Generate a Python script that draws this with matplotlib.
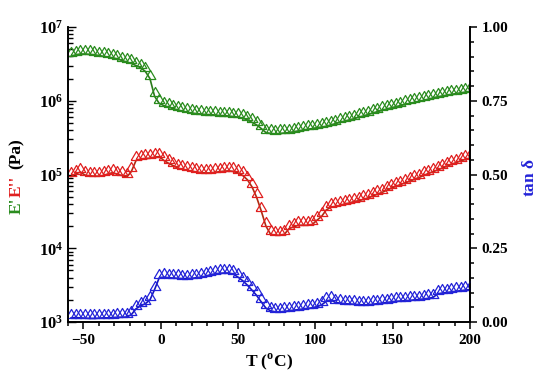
import numpy as np
import matplotlib.pyplot as plt
from matplotlib.ticker import FixedLocator, MultipleLocator, LogLocator, NullFormatter, FuncFormatter

plt.rcParams['font.family'] = 'Liberation Serif'
plt.rcParams['font.weight'] = 'bold'
plt.rcParams['mathtext.fontset'] = 'custom'
plt.rcParams['mathtext.rm'] = 'Liberation Serif:bold'
plt.rcParams['mathtext.bf'] = 'Liberation Serif:bold'

# temperature (degC)
T = [-58, -55, -52, -49, -46, -43, -40, -37, -34, -31, -28, -25, -22, -19, -16,
     -13, -10, -7, -4, -1, 2, 5, 8, 11, 14, 17, 20, 23, 26, 29, 32, 35, 38, 41,
     44, 47, 50, 53, 56, 59, 62, 65, 68, 71, 74, 77, 80, 83, 86, 89, 92, 95, 98,
     101, 104, 107, 110, 113, 116, 119, 122, 125, 128, 131, 134, 137, 140, 143,
     146, 149, 152, 155, 158, 161, 164, 167, 170, 173, 176, 179, 182, 185, 188,
     191, 194, 197, 200]

# storage modulus E' (x1e6 Pa)
E_store = [4.0, 4.2, 4.3, 4.3, 4.25, 4.2, 4.1, 4.0, 3.9, 3.8, 3.7, 3.5, 3.35, 3.2,
           3.0, 2.8, 2.5, 2.0, 1.15, 0.92, 0.86, 0.82, 0.78, 0.75, 0.72, 0.70,
           0.68, 0.67, 0.66, 0.65, 0.65, 0.64, 0.63, 0.63, 0.62, 0.61, 0.60, 0.58,
           0.55, 0.51, 0.47, 0.42, 0.37, 0.36, 0.355, 0.36, 0.365, 0.37, 0.38,
           0.39, 0.40, 0.41, 0.42, 0.43, 0.44, 0.45, 0.47, 0.49, 0.51, 0.53, 0.55,
           0.57, 0.60, 0.62, 0.65, 0.68, 0.71, 0.74, 0.77, 0.80, 0.83, 0.86, 0.89,
           0.92, 0.95, 0.98, 1.01, 1.05, 1.09, 1.13, 1.16, 1.19, 1.22, 1.25, 1.28,
           1.31, 1.34]

# loss modulus E'' (x1e5 Pa)
E_loss = [0.94, 1.02, 1.08, 0.98, 0.96, 0.95, 0.95, 0.97, 1.02, 1.06, 1.0, 0.97,
          0.92, 1.1, 1.55, 1.62, 1.65, 1.66, 1.72, 1.75, 1.55, 1.42, 1.32, 1.22,
          1.18, 1.14, 1.11, 1.08, 1.06, 1.05, 1.05, 1.07, 1.09, 1.11, 1.12, 1.10,
          1.05, 0.97, 0.85, 0.68, 0.49, 0.32, 0.20, 0.155, 0.15, 0.15, 0.155,
          0.185, 0.195, 0.205, 0.205, 0.205, 0.21, 0.24, 0.27, 0.33, 0.36, 0.37,
          0.38, 0.40, 0.41, 0.43, 0.44, 0.46, 0.48, 0.51, 0.54, 0.57, 0.61, 0.65,
          0.69, 0.73, 0.77, 0.81, 0.86, 0.91, 0.97, 1.03, 1.09, 1.15, 1.22, 1.29,
          1.37, 1.45, 1.53, 1.60, 1.68]

# loss factor tan delta
tan_d = [0.014, 0.015, 0.014, 0.013, 0.012, 0.012, 0.013, 0.014, 0.014, 0.015,
         0.016, 0.016, 0.017, 0.025, 0.045, 0.055, 0.062, 0.075, 0.11, 0.150,
         0.152, 0.150, 0.149, 0.148, 0.147, 0.147, 0.148, 0.150, 0.152, 0.155,
         0.160, 0.163, 0.165, 0.166, 0.166, 0.162, 0.152, 0.140, 0.125, 0.108,
         0.090, 0.068, 0.047, 0.038, 0.034, 0.034, 0.036, 0.038, 0.040, 0.042,
         0.044, 0.046, 0.048, 0.052, 0.058, 0.070, 0.075, 0.066, 0.064, 0.062,
         0.061, 0.060, 0.059, 0.058, 0.058, 0.060, 0.062, 0.064, 0.066, 0.068,
         0.070, 0.071, 0.072, 0.073, 0.075, 0.076, 0.078, 0.080, 0.083, 0.095,
         0.098, 0.100, 0.102, 0.104, 0.106, 0.108, 0.110]

T = np.array(T)
E_store = np.array(E_store) * 1e6
E_loss = np.array(E_loss) * 1e5
tan_d = np.array(tan_d)

# open triangle with its base on the data point
tri = [(-1, 0), (1, 0), (0, 1.7), (-1, 0)]

green = '#2a8c1e'
red = '#e02020'
blue = '#2323d8'

fig = plt.figure(figsize=(5.5, 3.75), dpi=100)
ax = fig.add_axes([68/550, 1-322/375, 402/550, 295/375])
ax2 = ax.twinx()

mk = dict(marker=tri, ms=13, mfc='none', mew=0.9)
ax.plot(T, E_store, color='#2a7a1a', lw=1.2, mec=green, **mk)
ax.plot(T, E_loss, color='#b02a10', lw=1.2, mec=red, **mk)
ax2.plot(T, tan_d, color='#1515c0', lw=1.2, mec=blue, **mk)

ax.set_yscale('log')
ax.set_ylim(1e3, 1e7)
ax.set_xlim(-60, 200)
ax2.set_ylim(0, 1.0)

for a in (ax, ax2):
    a.spines['top'].set_visible(False)
    for s in a.spines.values():
        s.set_linewidth(1.2)

ax.xaxis.set_major_locator(FixedLocator([-50, 0, 50, 100, 150, 200]))
ax.xaxis.set_minor_locator(MultipleLocator(10))
ax.yaxis.set_major_locator(LogLocator(base=10, numticks=10))
ax.yaxis.set_minor_locator(LogLocator(base=10, subs=np.arange(2, 10), numticks=10))
ax.yaxis.set_minor_formatter(NullFormatter())
ax.yaxis.set_major_formatter(FuncFormatter(lambda v, p: r'$\mathbf{10^{%d}}$' % round(np.log10(v))))

ax.tick_params(axis='x', which='both', direction='out', top=False, labelsize=11, width=1.1)
ax.tick_params(axis='x', which='major', length=5)
ax.tick_params(axis='x', which='minor', length=3)
ax.tick_params(axis='y', which='both', direction='in', right=False, labelsize=12, width=1.0)
ax.tick_params(axis='y', which='major', length=6)
ax.tick_params(axis='y', which='minor', length=3.5)

ax2.yaxis.set_major_locator(MultipleLocator(0.25))
ax2.yaxis.set_minor_locator(MultipleLocator(0.05))
ax2.yaxis.set_major_formatter(FuncFormatter(lambda v, p: '%.2f' % v))
ax2.tick_params(axis='y', which='both', direction='out', labelsize=11, width=1.1)
ax2.tick_params(axis='y', which='major', length=5)
ax2.tick_params(axis='y', which='minor', length=3)

ax.set_xlabel(r'T ($^{\mathbf{o}}$C)', fontsize=12.5, fontweight='bold', labelpad=3)

fig.text(17/550, 1-206/375, "E'", color=green, fontsize=12.5, fontweight='bold',
         rotation=90, ha='center', va='center')
fig.text(17/550, 1-186/375, "E''", color=red, fontsize=12.5, fontweight='bold',
         rotation=90, ha='center', va='center')
fig.text(17/550, 1-154/375, "(Pa)", color='black', fontsize=12.5, fontweight='bold',
         rotation=90, ha='center', va='center')
fig.text(530/550, 1-178/375, r"tan $\mathbf{\delta}$", color=blue, fontsize=12.5,
         fontweight='bold', rotation=90, ha='center', va='center')

fig.savefig('out.png', dpi=100)
